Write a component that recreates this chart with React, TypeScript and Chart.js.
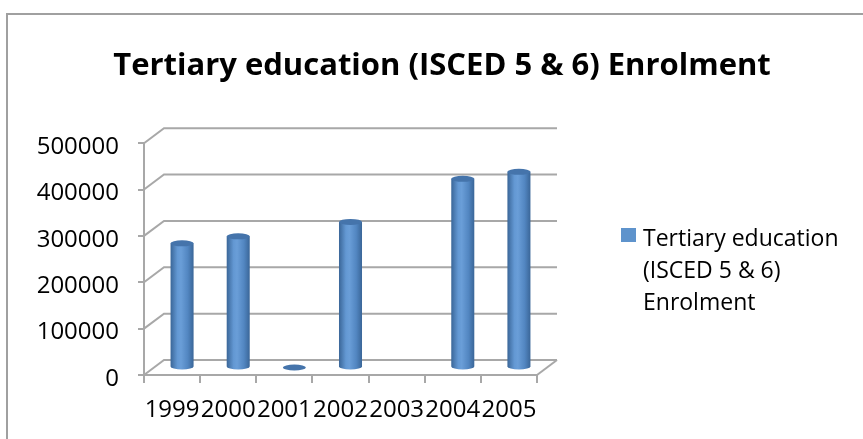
import { useEffect, useRef } from "react";
import { Chart, registerables } from "chart.js";

Chart.register(...registerables);

// ---- data ----
const categories = ["1999", "2000", "2001", "2002", "2003", "2004", "2005"];
const enrolment: (number | null)[] = [268000, 283000, 0, 314000, null, 407000, 422000];
const yTickValues = [0, 100000, 200000, 300000, 400000, 500000];
const titleText = "Tertiary education (ISCED 5 & 6) Enrolment";
const seriesLabel = "Tertiary education (ISCED 5 & 6) Enrolment";
const legendLines = ["Tertiary education", "(ISCED 5 & 6)", "Enrolment"];

// ---- style ----
const FONT = "'Open Sans', 'Noto Sans', sans-serif";
const DX = 20;
const DY = -15;
const GRID = "#A8A8A8";

const framePlugin = {
  id: "frame3d",
  beforeDraw(chart: any) {
    const ctx = chart.ctx;
    ctx.save();
    ctx.fillStyle = "#FFFFFF";
    ctx.fillRect(0, 0, chart.width, chart.height);
    ctx.strokeStyle = "#A0A0A0";
    ctx.lineWidth = 2;
    ctx.beginPath();
    ctx.moveTo(7, chart.height + 2);
    ctx.lineTo(7, 14);
    ctx.lineTo(chart.width + 2, 14);
    ctx.stroke();
    ctx.restore();
  },
  beforeDatasetsDraw(chart: any) {
    const ctx = chart.ctx;
    const ys = chart.scales.y;
    const { left, right, bottom } = chart.chartArea;
    ctx.save();
    ctx.strokeStyle = GRID;
    ctx.lineWidth = 2;
    ctx.lineCap = "butt";
    ys.ticks.forEach((t: any) => {
      const yf = ys.getPixelForValue(t.value);
      ctx.beginPath();
      ctx.moveTo(left, yf);
      ctx.lineTo(left + DX, yf + DY);
      ctx.lineTo(right + DX, yf + DY);
      ctx.stroke();
    });
    // floor right edge
    ctx.beginPath();
    ctx.moveTo(right, bottom);
    ctx.lineTo(right + DX, bottom + DY);
    ctx.stroke();
    ctx.restore();
  },
  afterDatasetsDraw(chart: any) {
    const ctx = chart.ctx;
    const meta = chart.getDatasetMeta(0);
    const data = chart.data.datasets[0].data;
    ctx.save();
    meta.data.forEach((el: any, i: number) => {
      const v = data[i];
      if (v === null || v === undefined) return;
      const cx = el.x + DX / 2;
      const rx = el.width / 2;
      const ry = 3;
      const topY = el.y + DY / 2;
      const baseY = el.base + DY / 2;
      if (v > 0) {
        const g = ctx.createLinearGradient(cx - rx, 0, cx + rx, 0);
        g.addColorStop(0, "#3A6698");
        g.addColorStop(0.3, "#6398D3");
        g.addColorStop(0.45, "#6A9ED8");
        g.addColorStop(0.75, "#5286C1");
        g.addColorStop(1, "#3A6698");
        ctx.fillStyle = g;
        ctx.beginPath();
        ctx.moveTo(cx - rx, topY);
        ctx.lineTo(cx - rx, baseY);
        ctx.ellipse(cx, baseY, rx, ry, 0, Math.PI, 0, true);
        ctx.lineTo(cx + rx, topY);
        ctx.closePath();
        ctx.fill();
        ctx.fillStyle = "#4574AB";
        ctx.beginPath();
        ctx.ellipse(cx, topY, rx, ry, 0, 0, Math.PI * 2);
        ctx.fill();
      } else {
        ctx.fillStyle = "#4574AB";
        ctx.beginPath();
        ctx.ellipse(cx, baseY, rx, ry, 0, 0, Math.PI * 2);
        ctx.fill();
      }
    });
    ctx.restore();
  },
  afterDraw(chart: any) {
    const ctx = chart.ctx;
    ctx.save();
    ctx.fillStyle = "#5E93CC";
    ctx.fillRect(621, 228, 15, 14);
    ctx.fillStyle = "#000000";
    ctx.font = `23px ${FONT}`;
    ctx.textAlign = "left";
    ctx.textBaseline = "alphabetic";
    legendLines.forEach((line, i) => {
      ctx.fillText(line, 643, 246 + i * 32);
    });
    ctx.restore();
  },
};

export default function App() {
  const ref = useRef<HTMLCanvasElement>(null);
  useEffect(() => {
    const canvas = ref.current;
    if (!canvas) return;
    Chart.defaults.font.family = FONT;
    const chart = new Chart(canvas, {
      type: "bar",
      data: {
        labels: categories,
        datasets: [
          {
            label: seriesLabel,
            data: enrolment,
            backgroundColor: "rgba(0,0,0,0)",
            borderWidth: 0,
            barPercentage: 0.41,
            categoryPercentage: 1,
            xAxisID: "x",
            yAxisID: "y",
          },
        ],
      },
      options: {
        responsive: false,
        animation: false,
        devicePixelRatio: 1,
        layout: { padding: { left: 21, right: 0, top: 0, bottom: 0 } },
        plugins: {
          legend: { display: false },
          tooltip: { enabled: false },
          title: {
            display: true,
            text: titleText,
            color: "#000000",
            font: { family: FONT, size: 31, weight: "bold" },
            padding: { top: 48, bottom: 58 },
          },
        },
        scales: {
          x: {
            type: "category",
            offset: true,
            grid: {
              display: true,
              offset: true,
              drawOnChartArea: false,
              drawTicks: true,
              tickLength: 8,
              color: GRID,
              lineWidth: 2,
            },
            border: { display: true, color: GRID, width: 2 },
            ticks: {
              autoSkip: false,
              maxRotation: 0,
              minRotation: 0,
              padding: 13,
              color: "#000000",
              font: { family: FONT, size: 24 },
            },
            afterFit: (s: any) => {
              s.height = 64;
            },
          },
          y: {
            type: "linear",
            position: "left",
            min: 0,
            max: 500000,
            afterBuildTicks: (s: any) => {
              s.ticks = yTickValues.map((v) => ({ value: v }));
            },
            grid: {
              display: true,
              drawOnChartArea: false,
              drawTicks: true,
              tickLength: 6,
              color: GRID,
              lineWidth: 2,
            },
            border: { display: true, color: GRID, width: 2 },
            ticks: {
              padding: 19,
              labelOffset: 4,
              color: "#000000",
              font: { family: FONT, size: 24 },
              callback: (v: any) => String(v),
            },
            afterFit: (s: any) => {
              s.width = 123;
            },
          },
          yRight: {
            type: "linear",
            position: "right",
            display: true,
            min: 0,
            max: 1,
            grid: { display: false },
            border: { display: false },
            ticks: { display: false },
            afterFit: (s: any) => {
              s.width = 326;
            },
          },
        },
      },
      plugins: [framePlugin],
    });
    return () => chart.destroy();
  }, []);
  return (
    <div style={{ position: "absolute", left: 0, top: 0, width: 863, height: 439 }}>
      <canvas ref={ref} width={863} height={439} style={{ display: "block" }} />
    </div>
  );
}
